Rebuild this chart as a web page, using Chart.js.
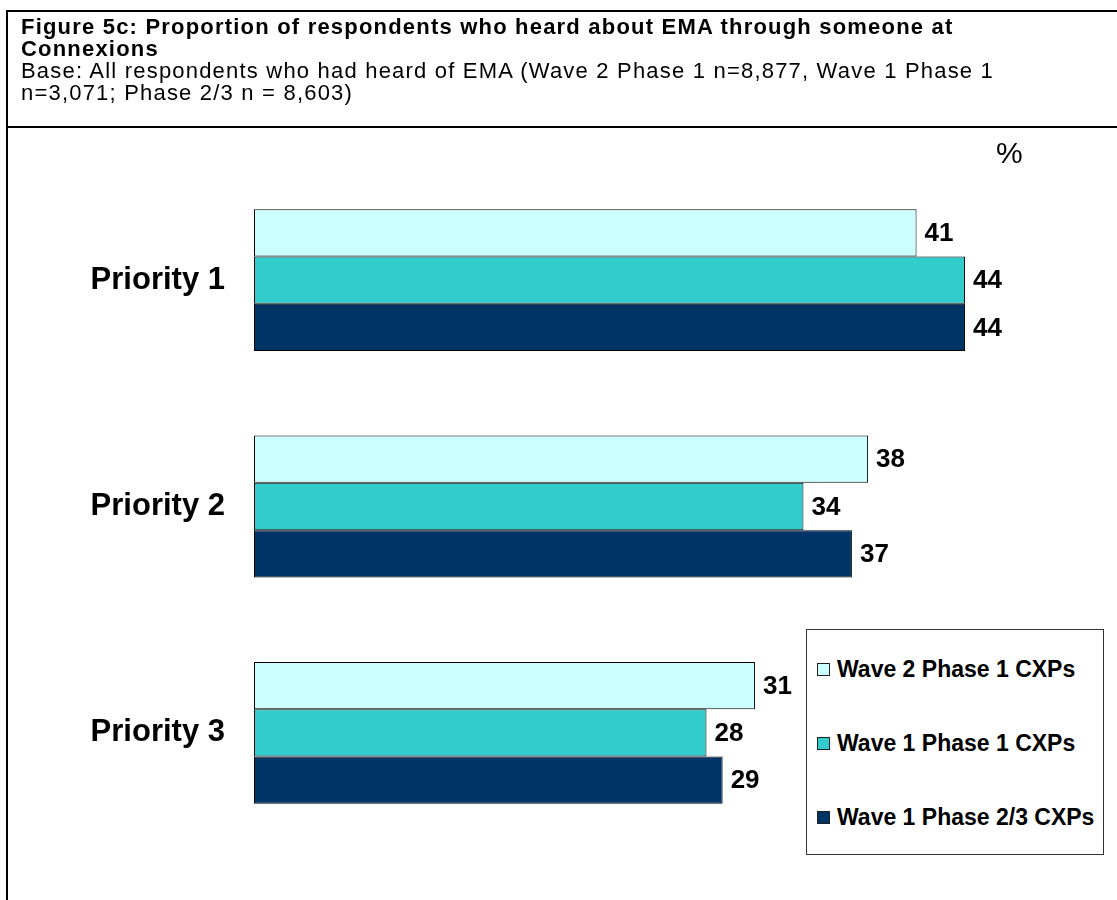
<!DOCTYPE html>
<html>
<head>
<meta charset="utf-8">
<script src="https://cdn.jsdelivr.net/npm/chart.js@4.4.1/dist/chart.umd.min.js"></script>
<style>
  html, body { margin: 0; padding: 0; background: #fff; }
  body { width: 1117px; height: 900px; position: relative; overflow: hidden; font-family: Arial, "Liberation Sans", sans-serif; color: #000; }
  #frameTop { position: absolute; left: 6px; top: 10px; right: 0; height: 2px; background: #000; }
  #frameMid { position: absolute; left: 6px; top: 126px; right: 0; height: 2px; background: #000; }
  #frameLeft { position: absolute; left: 6px; top: 10px; bottom: 0; width: 2px; background: #000; }
  #header { position: absolute; left: 21px; top: 16px; font-size: 22px; line-height: 22px; letter-spacing: 1.2px; white-space: nowrap; }
  #header .title { font-weight: bold; }
  #unit { position: absolute; left: 996px; top: 136px; font-size: 30px; line-height: 34px; }
  #chartWrap { position: absolute; left: 0; top: 0; width: 1117px; height: 900px; }
  #legend { position: absolute; left: 806px; top: 629px; width: 298px; height: 226px; border: 1px solid #333; background: #fff; box-sizing: border-box; }
  #legend .item { position: absolute; left: 10px; height: 24px; display: flex; align-items: center; font-weight: bold; font-size: 23px; white-space: nowrap; }
  #legend .swatch { width: 13px; height: 13px; border: 1px solid #222; margin-right: 7px; box-sizing: border-box; }
</style>
</head>
<body>
<div id="chartWrap"><canvas id="chart" width="1117" height="900"></canvas></div>
<div id="frameTop"></div>
<div id="frameMid"></div>
<div id="frameLeft"></div>
<div id="header">
  <div class="title">Figure 5c: Proportion of respondents who heard about EMA through someone at<br>Connexions</div>
  <div>Base: All respondents who had heard of EMA (Wave 2 Phase 1 n=8,877, Wave 1 Phase 1<br>n=3,071; Phase 2/3 n = 8,603)</div>
</div>
<div id="unit">%</div>
<div id="legend"></div>
<script>
// Categories and series (percentages)
const categories = ['Priority 1', 'Priority 2', 'Priority 3'];
const seriesNames = ['Wave 2 Phase 1 CXPs', 'Wave 1 Phase 1 CXPs', 'Wave 1 Phase 2/3 CXPs'];
const wave2Phase1 = [41, 38, 31];
const wave1Phase1 = [44, 34, 28];
const wave1Phase23 = [44, 37, 29];
const seriesColors = ['#CCFFFF', '#33CCCC', '#003366'];

const seriesValues = [wave2Phase1, wave1Phase1, wave1Phase23];

// Value labels at the end of each bar
const barValueLabels = {
  id: 'barValueLabels',
  afterDatasetsDraw(chart) {
    const ctx = chart.ctx;
    ctx.save();
    ctx.font = 'bold 26px Arial, "Liberation Sans", sans-serif';
    ctx.fillStyle = '#000';
    ctx.textAlign = 'left';
    ctx.textBaseline = 'middle';
    chart.data.datasets.forEach((ds, di) => {
      const meta = chart.getDatasetMeta(di);
      meta.data.forEach((bar, i) => {
        ctx.fillText(String(ds.data[i]), bar.x + 8, bar.y + 1);
      });
    });
    ctx.restore();
  }
};

const chart = new Chart(document.getElementById('chart'), {
  type: 'bar',
  data: {
    labels: categories,
    datasets: seriesNames.map((name, i) => ({
      label: name,
      data: seriesValues[i],
      backgroundColor: seriesColors[i],
      borderColor: '#000',
      borderWidth: 1,
      borderSkipped: false,
      categoryPercentage: 0.627,
      barPercentage: 1.0
    }))
  },
  options: {
    indexAxis: 'y',
    responsive: false,
    animation: false,
    events: [],
    layout: { padding: { top: 167, bottom: 54, left: 0, right: 55 } },
    plugins: {
      legend: { display: false },
      tooltip: { enabled: false }
    },
    scales: {
      x: { min: 0, max: 50, display: false },
      y: {
        grid: { display: false, drawTicks: false },
        border: { display: false },
        ticks: {
          color: '#000',
          padding: 29,
          font: { family: 'Arial, "Liberation Sans", sans-serif', size: 31, weight: 'bold' }
        },
        afterFit(scale) { scale.width = 254; }
      }
    }
  },
  plugins: [barValueLabels]
});

// Legend built from the chart's datasets
const legendEl = document.getElementById('legend');
const itemTops = [27, 101, 175];
chart.data.datasets.forEach((ds, i) => {
  const item = document.createElement('div');
  item.className = 'item';
  item.style.top = itemTops[i] + 'px';
  const sw = document.createElement('span');
  sw.className = 'swatch';
  sw.style.background = ds.backgroundColor;
  item.appendChild(sw);
  item.appendChild(document.createTextNode(ds.label));
  legendEl.appendChild(item);
});
</script>
</body>
</html>
